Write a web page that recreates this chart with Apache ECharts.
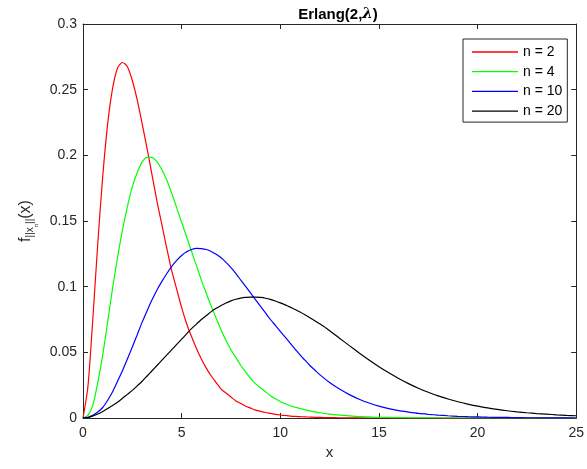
<!DOCTYPE html>
<html>
<head>
<meta charset="utf-8">
<script src="https://cdn.jsdelivr.net/npm/echarts@6/dist/echarts.min.js"></script>
<style>
  html, body { margin: 0; padding: 0; background: #fff; }
  #chart { width: 587px; height: 469px; }
</style>
</head>
<body>
<div id="chart"></div>
<script>
// sample positions along x: 0.25 steps up to 12, 0.5 steps after
var xValues = [0, 0.25, 0.5, 0.75, 1, 1.25, 1.5, 1.75, 2, 2.25, 2.5, 2.75,
  3, 3.25, 3.5, 3.75, 4, 4.25, 4.5, 4.75, 5, 5.25, 5.5, 5.75,
  6, 6.25, 6.5, 6.75, 7, 7.25, 7.5, 7.75, 8, 8.25, 8.5, 8.75,
  9, 9.25, 9.5, 9.75, 10, 10.25, 10.5, 10.75, 11, 11.25, 11.5, 11.75,
  12, 12.5, 13, 13.5, 14, 14.5, 15, 15.5, 16, 16.5, 17, 17.5, 18,
  18.5, 19, 19.5, 20, 20.5, 21, 21.5, 22, 22.5, 23, 23.5, 24, 24.5, 25];

// curves, one value per x above
var redY = [0, 0.024, 0.076, 0.133, 0.184, 0.224, 0.251, 0.2665, 0.2707, 0.2675, 0.257, 0.242,
  0.224, 0.205, 0.185, 0.165, 0.147, 0.129, 0.112, 0.098, 0.084, 0.072, 0.062, 0.053,
  0.045, 0.038, 0.032, 0.027, 0.022, 0.019, 0.016, 0.013, 0.011, 0.009, 0.0075, 0.006,
  0.005, 0.0042, 0.0035, 0.0028, 0.0023, 0.0019, 0.0015, 0.0012, 0.001, 0.0008, 0.0007, 0.0005,
  0.0004, 0.0003, 0.0002, 0.0001, 0.0001, 0, 0, 0, 0, 0, 0, 0, 0,
  0, 0, 0, 0, 0, 0, 0, 0, 0, 0, 0, 0, 0, 0];

var greenY = [0, 0.002, 0.010, 0.027, 0.048, 0.073, 0.099, 0.122, 0.143, 0.161, 0.176, 0.187,
  0.195, 0.1985, 0.1985, 0.195, 0.189, 0.181, 0.171, 0.160, 0.149, 0.138, 0.127, 0.116,
  0.105, 0.095, 0.085, 0.076, 0.067, 0.059, 0.052, 0.046, 0.040, 0.035, 0.030, 0.026,
  0.023, 0.020, 0.017, 0.0147, 0.0126, 0.0108, 0.0093, 0.0082, 0.0072, 0.0062, 0.0054, 0.0047,
  0.004, 0.003, 0.0022, 0.0016, 0.0011, 0.0008, 0.0005, 0.0004, 0.0003, 0.0002, 0.0001, 0.0001, 0,
  0, 0, 0, 0, 0, 0, 0, 0, 0, 0, 0, 0, 0, 0];

var blueY = [0, 0.0005, 0.002, 0.0045, 0.008, 0.0135, 0.020, 0.028, 0.036, 0.045, 0.054, 0.0635,
  0.073, 0.0817, 0.090, 0.0975, 0.104, 0.110, 0.1155, 0.120, 0.1237, 0.1265, 0.1283, 0.1292,
  0.129, 0.1283, 0.1268, 0.1246, 0.122, 0.1185, 0.1145, 0.110, 0.105, 0.100, 0.095, 0.090,
  0.085, 0.080, 0.075, 0.0705, 0.066, 0.0615, 0.057, 0.0525, 0.048, 0.044, 0.040, 0.0365,
  0.033, 0.027, 0.022, 0.0178, 0.0143, 0.0114, 0.009, 0.0071, 0.0056, 0.0045, 0.0035, 0.0028, 0.0022,
  0.0017, 0.0013, 0.001, 0.0008, 0.0006, 0.0005, 0.0004, 0.0003, 0.0002, 0.0002, 0.0001, 0.0001, 0.0001, 0];

var blackY = [0, 0.0004, 0.0015, 0.003, 0.005, 0.0072, 0.0095, 0.012, 0.015, 0.018, 0.021, 0.0245,
  0.028, 0.032, 0.036, 0.040, 0.044, 0.048, 0.052, 0.056, 0.060, 0.064, 0.068, 0.0715,
  0.075, 0.078, 0.081, 0.0835, 0.0857, 0.0876, 0.0892, 0.0904, 0.0913, 0.0918, 0.0921, 0.0921,
  0.0918, 0.0912, 0.0903, 0.0891, 0.0877, 0.0861, 0.0844, 0.0826, 0.0807, 0.0786, 0.0764, 0.0741,
  0.0717, 0.0665, 0.0608, 0.0551, 0.0495, 0.0441, 0.039, 0.0344, 0.0301, 0.0262, 0.0227, 0.0196, 0.0168,
  0.0145, 0.0124, 0.0106, 0.009, 0.0077, 0.0065, 0.0055, 0.0047, 0.004, 0.0034, 0.0029, 0.0024, 0.002, 0.0017];

var seriesNames = ["n = 2", "n = 4", "n = 10", "n = 20"];
var seriesColors = ["#ff0000", "#00ff00", "#0000ff", "#000000"];

var FONT = "Liberation Sans";
var AXIS_COLOR = "#262626";

function zip(xs, ys) {
  var out = [];
  for (var i = 0; i < xs.length; i++) out.push([xs[i], ys[i]]);
  return out;
}

var curves = [zip(xValues, redY), zip(xValues, greenY), zip(xValues, blueY), zip(xValues, blackY)];

var chart = echarts.init(document.getElementById("chart"), null, { renderer: "canvas" });

// shared look of the boxed (matlab style) axes
function boxAxis(extra) {
  var base = {
    type: "value",
    axisLine: { show: true, onZero: false, lineStyle: { color: AXIS_COLOR, width: 1 } },
    axisTick: { show: true, inside: true, length: 5, lineStyle: { color: AXIS_COLOR } },
    splitLine: { show: false },
    axisLabel: { show: false }
  };
  for (var k in extra) base[k] = extra[k];
  return base;
}

var series = [];
for (var s = 0; s < curves.length; s++) {
  series.push({
    name: seriesNames[s],
    type: "line",
    data: curves[s],
    smooth: 0.25,
    symbol: "none",
    showSymbol: false,
    xAxisIndex: 0,
    yAxisIndex: 0,
    lineStyle: { color: seriesColors[s], width: 1.2 },
    itemStyle: { color: seriesColors[s] }
  });
}

var option = {
  animation: false,
  backgroundColor: "#fff",
  title: {
    text: "{b|Erlang(2,}{l|λ}{b|)}",
    left: 333,
    top: 2,
    textAlign: "center",
    textStyle: {
      rich: {
        b: { fontFamily: FONT, fontSize: 15, fontWeight: "bold", color: "#000" },
        l: { fontFamily: "DejaVu Serif", fontSize: 15, fontStyle: "italic", color: "#000" }
      }
    }
  },
  legend: {
    orient: "vertical",
    left: 463,
    top: 39,
    icon: "rect",
    itemWidth: 46,
    itemHeight: 1.3,
    itemGap: 5.7,
    padding: [6, 5, 4, 9],
    borderColor: AXIS_COLOR,
    borderWidth: 1,
    borderRadius: 0,
    backgroundColor: "#fff",
    data: seriesNames,
    textStyle: { fontFamily: FONT, fontSize: 14, lineHeight: 14, color: "#000" }
  },
  grid: { left: 83, right: 5, top: 24, bottom: 51, containLabel: false },
  xAxis: [
    boxAxis({
      min: 0, max: 25, interval: 5,
      position: "bottom",
      name: "x",
      nameLocation: "middle",
      nameGap: 23,
      nameTextStyle: { fontFamily: FONT, fontSize: 15, color: AXIS_COLOR },
      axisLabel: { show: true, margin: 8, fontFamily: FONT, fontSize: 14, color: AXIS_COLOR }
    }),
    boxAxis({ min: 0, max: 25, interval: 5, position: "top" })
  ],
  yAxis: [
    boxAxis({
      min: 0, max: 0.3, interval: 0.05,
      position: "left",
      name: "{f|f}{s|||x}{n|n}{s|||}{f|(x)}",
      nameLocation: "middle",
      nameRotate: 90,
      nameGap: 38,
      nameTextStyle: {
        rich: {
          f: { fontFamily: FONT, fontSize: 16, color: AXIS_COLOR, lineHeight: 22 },
          s: { fontFamily: FONT, fontSize: 10, color: AXIS_COLOR, verticalAlign: "bottom", padding: [0, 0, 2, 0] },
          n: { fontFamily: FONT, fontSize: 6, color: AXIS_COLOR, verticalAlign: "bottom", padding: [0, 0, -2, 0] }
        }
      },
      axisLabel: {
        show: true, margin: 6, fontFamily: FONT, fontSize: 14, color: AXIS_COLOR,
        formatter: function (v) { return String(+v.toFixed(2)); }
      }
    }),
    boxAxis({ min: 0, max: 0.3, interval: 0.05, position: "right" })
  ],
  series: series
};

chart.setOption(option);
</script>
</body>
</html>
